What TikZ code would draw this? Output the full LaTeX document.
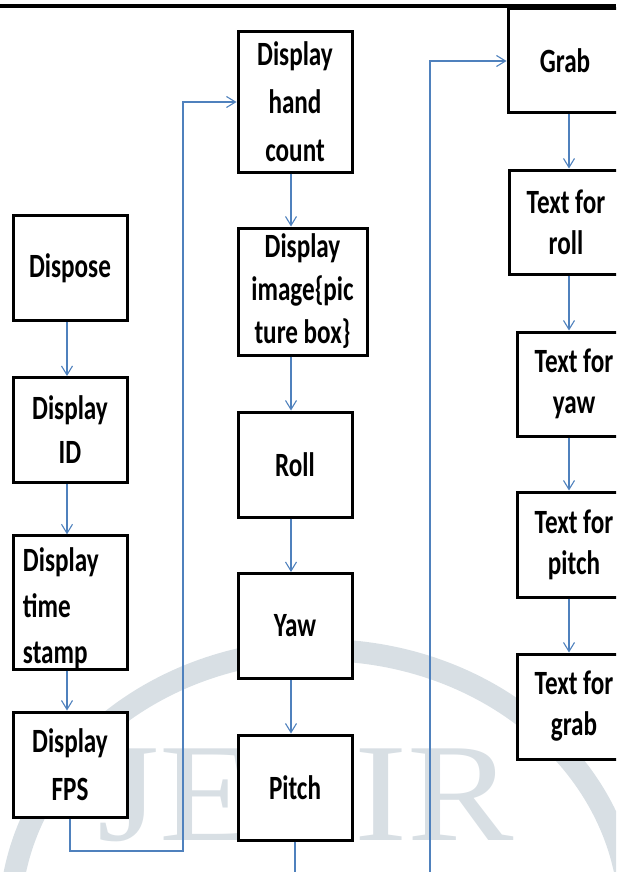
\documentclass[tikz,border=0pt]{standalone}
\usepackage{fontspec}
\setmainfont{Carlito}[FakeStretch=0.74]
\newfontfamily\markfont{Liberation Serif}
\usepackage{graphicx}
\usepackage{tikz}
\usetikzlibrary{arrows.meta}
\usetikzlibrary{positioning}
\usetikzlibrary{calc}
\definecolor{flowblue}{RGB}{79,129,189}
\definecolor{markgray}{RGB}{216,223,228}

\begin{document}
\begin{tikzpicture}[
        x=1pt, y=-1pt,
        defaultS/.style={
            line width=3pt,
            fill=white,
            draw=black,
            inner sep=0pt,
            font=\fontsize{34}{44}\selectfont\bfseries
        },
        boxS/.style={
        	defaultS,
        	rectangle,
        	align=center,
        	minimum width=114pt,
        	minimum height=105pt
        },
        arrowS/.style={
            flowblue,
            line width=1.1pt,
            -{Straight Barb[length=9pt,width=11pt]}
        },
        lineS/.style={flowblue, line width=1.1pt},
    ]

    \useasboundingbox (0,0) rectangle (616,872);
    \clip (0,0) rectangle (616,872);

    \draw[markgray, line width=22pt] (320,920) ellipse [x radius=310, y radius=270];
    \node[text=markgray, font=\markfont\fontsize{140}{140}\selectfont, anchor=base, inner sep=0pt] (mark) at (306,840) {\scalebox{1.14}[1]{JETIR}};

    \fill (0,4.5) rectangle (616,8.5);

	\node[boxS] (dispose) at (70,268) {Dispose};
	\node[boxS] (dispid) at (70,430) {Display\\ID};
	\node[boxS, minimum height=129pt, align=left, text width=94pt, font=\fontsize{34}{46}\selectfont\bfseries] (stamp) at (70,602.5) {\rule{0pt}{36pt}Display\\time\\stamp};
	\node[boxS, font=\fontsize{34}{48}\selectfont\bfseries] (fps) at (70,764.5) {Display\\FPS};

	\node[boxS, minimum height=140pt, font=\fontsize{34}{48}\selectfont\bfseries] (hand) at (295,102) {Display\\hand\\count};
	\node[boxS, minimum width=129pt, minimum height=127pt, font=\fontsize{34}{43}\selectfont\bfseries] (image) at (302.5,291.5) {Display\\image\{pic\\ture box\}};
	\node[boxS] (roll) at (295,464.5) {Roll};
	\node[boxS] (yaw) at (295,626) {Yaw};
	\node[boxS] (pitch) at (295,787.5) {Pitch};

	\node[boxS, minimum height=104pt] (grab) at (565,61) {Grab};
	\node[boxS, minimum height=104pt, font=\fontsize{34}{41}\selectfont\bfseries] (troll) at (566,222) {Text for\\roll};
	\node[boxS, minimum height=104pt, font=\fontsize{34}{41}\selectfont\bfseries] (tyaw) at (574,384) {Text for\\yaw};
	\node[boxS, minimum height=105pt, font=\fontsize{34}{41}\selectfont\bfseries] (tpitch) at (574,544.5) {Text for\\pitch};
	\node[boxS, minimum height=105pt, font=\fontsize{34}{41}\selectfont\bfseries] (tgrab) at (574,706.5) {Text for\\grab};

	\coordinate (cl) at (67,0);
	\coordinate (cm) at (291,0);
	\coordinate (cr) at (569,0);
	\coordinate (loopL) at (183,851);
	\coordinate (pitchend) at (295,880);
	\coordinate (grabfeed) at (430,880);

	\draw[arrowS] (dispose.south -| cl) -- (dispid.north -| cl);
	\draw[arrowS] (dispid.south -| cl) -- (stamp.north -| cl);
	\draw[arrowS] (stamp.south -| cl) -- (fps.north -| cl);
	\draw[arrowS] (fps.south) |- (loopL) |- (hand.west);

	\draw[arrowS] (hand.south -| cm) -- (image.north -| cm);
	\draw[arrowS] (image.south -| cm) -- (roll.north -| cm);
	\draw[arrowS] (roll.south -| cm) -- (yaw.north -| cm);
	\draw[arrowS] (yaw.south -| cm) -- (pitch.north -| cm);
	\draw[lineS] (pitch.south) -- (pitchend);

	\draw[arrowS] (grabfeed) |- (grab.west);
	\draw[arrowS] (grab.south -| cr) -- (troll.north -| cr);
	\draw[arrowS] (troll.south -| cr) -- (tyaw.north -| cr);
	\draw[arrowS] (tyaw.south -| cr) -- (tpitch.north -| cr);
	\draw[arrowS] (tpitch.south -| cr) -- (tgrab.north -| cr);

    \end{tikzpicture}
\end{document}
